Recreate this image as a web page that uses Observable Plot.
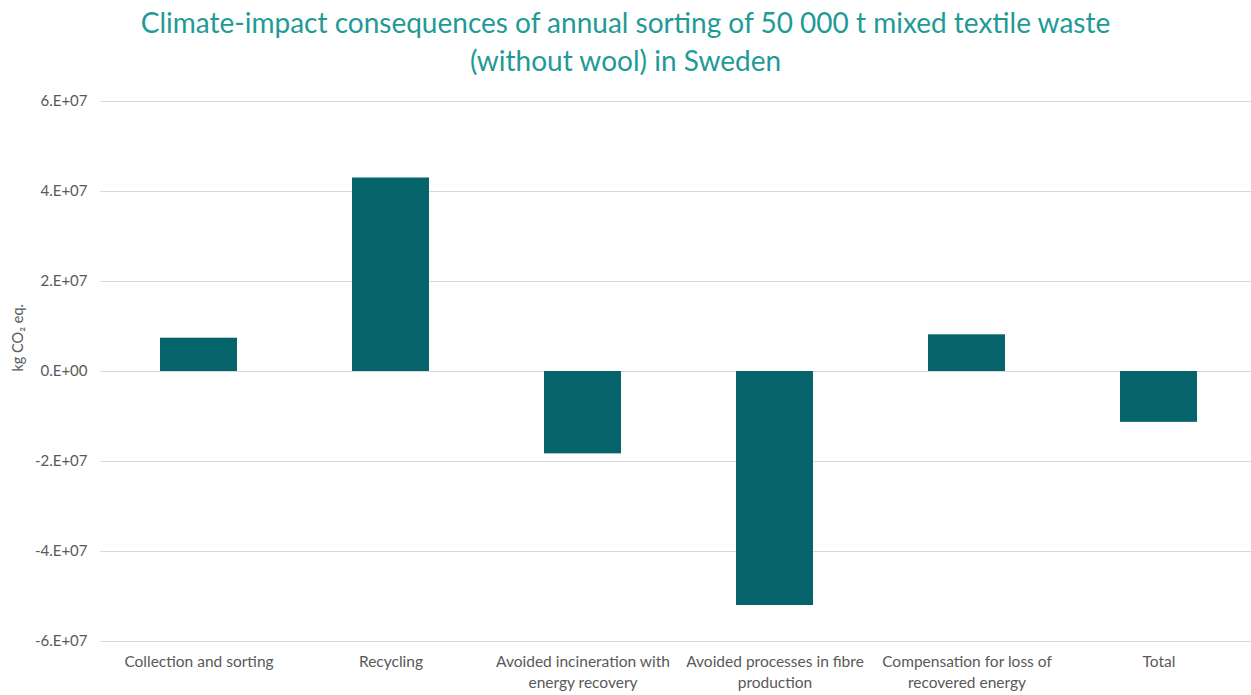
<!DOCTYPE html>
<html>
<head>
<meta charset="utf-8">
<script src="https://cdn.jsdelivr.net/npm/d3@7"></script>
<script src="https://cdn.jsdelivr.net/npm/@observablehq/plot@0.6"></script>
<style>
  html, body { margin: 0; padding: 0; background: #ffffff; }
  #title {
    box-sizing: border-box;
    height: 85px;
    padding-top: 3px;
    text-align: center;
    font-family: Lato, "Open Sans", sans-serif;
    font-size: 28px;
    line-height: 38px;
    color: #1f9a97;
  }
  #chart svg { display: block; }
</style>
</head>
<body>
<div id="title">Climate-impact consequences of annual sorting of 50 000 t mixed textile waste<br>(without wool) in Sweden</div>
<div id="chart"></div>
<script>
// Process steps (x-axis categories), with line breaks as printed under the axis
const categories = [
  "Collection and sorting",
  "Recycling",
  "Avoided incineration with\nenergy recovery",
  "Avoided processes in fibre\nproduction",
  "Compensation for loss of\nrecovered energy",
  "Total"
];

// Climate impact per step, kg CO2 eq.
const impacts = [7.4e6, 4.30e7, -1.83e7, -5.2e7, 8.15e6, -1.13e7];

// Y-axis tick values
const yTicks = [6e7, 4e7, 2e7, 0, -2e7, -4e7, -6e7];

const yLabel = "kg CO₂ eq.";

const data = categories.map((c, i) => ({category: c, value: impacts[i]}));

// Spreadsheet-style scientific notation: 6.E+07, 0.E+00, -2.E+07
function sciFormat(d) {
  if (d === 0) return "0.E+00";
  const e = Math.floor(Math.log10(Math.abs(d)));
  const m = Math.round(d / Math.pow(10, e));
  return `${m < 0 ? "-" : ""}${Math.abs(m)}.E+${String(e).padStart(2, "0")}`;
}

const textColor = "#595959";

const chart = Plot.plot({
  width: 1251,
  height: 610,
  marginTop: 16,
  marginBottom: 54,
  marginLeft: 100,
  marginRight: 0,
  style: {fontFamily: "Lato, 'Open Sans', sans-serif", fontSize: "15px", color: textColor, background: "#ffffff"},
  x: {domain: categories, range: [102, 1255], paddingInner: 0.6, paddingOuter: 0.3, label: null},
  y: {domain: [-6e7, 6e7], ticks: yTicks, label: null},
  marks: [
    Plot.gridY(yTicks, {stroke: "#d9d9d9", strokeOpacity: 1}),
    Plot.axisY(yTicks, {
      tickSize: 0,
      tickPadding: 13,
      tickFormat: sciFormat,
      fill: textColor,
      fontSize: 15,
      label: null
    }),
    // rotated y-axis title, centred on the frame
    Plot.text([yLabel], {
      frameAnchor: "left",
      rotate: -90,
      dx: -82,
      fill: textColor,
      fontSize: 14.5
    }),
    Plot.axisX({
      tickSize: 0,
      tickPadding: 11,
      fill: textColor,
      fontSize: 15.5,
      lineHeight: 1.35,
      label: null
    }),
    Plot.barY(data, {x: "category", y: "value", fill: "#04636b"})
  ]
});

document.getElementById("chart").appendChild(chart);
</script>
</body>
</html>
